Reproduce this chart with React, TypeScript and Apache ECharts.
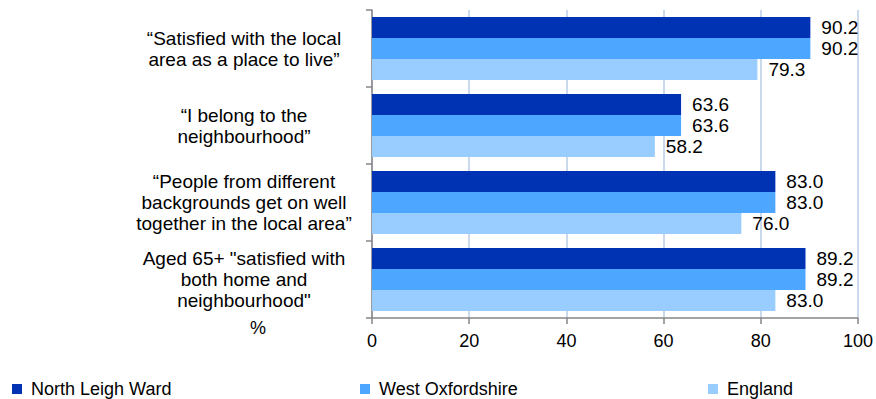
import React, { useEffect, useRef } from "react";
import * as echarts from "echarts";

const categories = [
  "\u201cSatisfied with the local\narea as a place to live\u201d",
  "\u201cI belong to the\nneighbourhood\u201d",
  "\u201cPeople from different\nbackgrounds get on well\ntogether in the local area\u201d",
  "Aged 65+ \"satisfied with\nboth home and\nneighbourhood\"",
];
const seriesNames = ["North Leigh Ward", "West Oxfordshire", "England"];
const northLeigh = [90.2, 63.6, 83.0, 89.2];
const westOxon = [90.2, 63.6, 83.0, 89.2];
const england = [79.3, 58.2, 76.0, 83.0];
const xTicks = [0, 20, 40, 60, 80, 100];
const colors = ["#0033B4", "#4DA6FF", "#99CCFF"];

export default function App() {
  const ref = useRef<HTMLDivElement>(null);
  useEffect(() => {
    if (!ref.current) return;
    const chart = echarts.init(ref.current, null, { renderer: "svg" });
    const font = "'Liberation Sans', Arial, sans-serif";
    const values = [northLeigh, westOxon, england];
    const legendLefts = [12, 360, 708];
    chart.setOption({
      animation: false,
      textStyle: { fontFamily: font },
      grid: { left: 372, right: 16, top: 10, bottom: 81, containLabel: false },
      legend: seriesNames.map((n, i) => ({
        data: [n],
        left: legendLefts[i],
        top: 380,
        icon: "rect",
        itemWidth: 10,
        itemHeight: 10,
        padding: 0,
        textStyle: { fontSize: 18, color: "#000", fontFamily: font, padding: [0, 0, 0, 4] },
      })),
      xAxis: {
        type: "value",
        min: xTicks[0],
        max: xTicks[xTicks.length - 1],
        interval: 20,
        axisLine: { show: true, lineStyle: { color: "#868686", width: 1.5 } },
        axisTick: { show: true, length: 6, lineStyle: { color: "#868686", width: 1.5 } },
        axisLabel: { fontSize: 18, color: "#000", margin: 14, fontFamily: font },
        splitLine: { show: true, lineStyle: { color: "#B9CDE5", width: 1.5 } },
      },
      yAxis: {
        type: "category",
        data: categories,
        inverse: true,
        axisLine: { show: true, lineStyle: { color: "#868686", width: 1.5 } },
        axisTick: { show: true, length: 6, lineStyle: { color: "#868686", width: 1.5 } },
        axisLabel: {
          fontSize: 19,
          color: "#000",
          align: "center",
          margin: 128,
          lineHeight: 21,
          fontFamily: font,
        },
        splitLine: { show: false },
      },
      graphic: [
        {
          type: "text",
          left: 250,
          top: 319,
          style: { text: "%", fontSize: 18, fill: "#000", fontFamily: font },
        },
      ],
      series: seriesNames.map((n, i) => ({
        name: n,
        type: "bar",
        data: values[i],
        itemStyle: { color: colors[i] },
        barGap: "0%",
        barCategoryGap: "18%",
        label: {
          show: true,
          position: "right",
          distance: 11,
          fontSize: 19,
          color: "#000",
          fontFamily: font,
          formatter: (p: any) => Number(p.value).toFixed(1),
        },
      })),
    });
    return () => chart.dispose();
  }, []);
  return (
    <div
      ref={ref}
      style={{ position: "absolute", left: 0, top: 0, width: 876, height: 399 }}
    />
  );
}
